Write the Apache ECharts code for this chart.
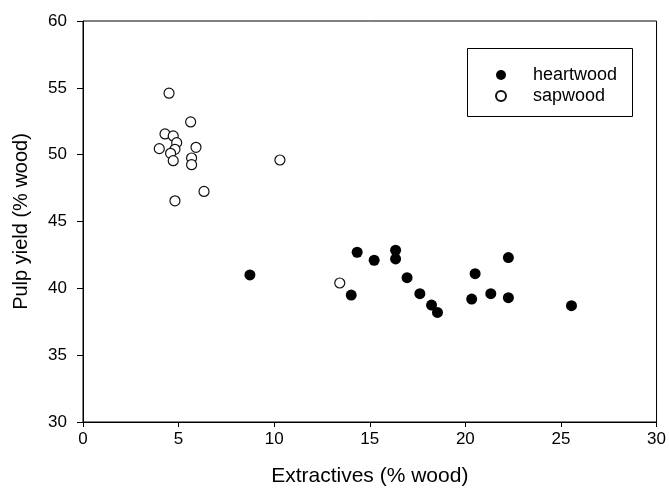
<!DOCTYPE html>
<html>
<head>
<meta charset="utf-8">
<script src="https://cdn.jsdelivr.net/npm/echarts@6/dist/echarts.min.js"></script>
<style>
  html, body { margin: 0; padding: 0; background: #fff; }
  #chart { width: 669px; height: 498px; }
</style>
</head>
<body>
<div id="chart"></div>
<script>
// extractives (% wood), pulp yield (% wood)
const heartwoodX = [8.73, 14.03, 14.34, 15.23, 16.35, 16.35, 16.95, 17.62, 18.23, 18.54, 20.33, 20.51, 21.33, 22.25, 22.25, 25.55];
const heartwoodY = [41.0, 39.5, 42.7, 42.1, 42.85, 42.2, 40.8, 39.6, 38.75, 38.2, 39.2, 41.1, 39.6, 42.3, 39.3, 38.7];

const sapwoodX = [4.50, 5.63, 4.29, 4.72, 4.90, 3.99, 5.91, 4.81, 4.58, 4.72, 5.68, 5.68, 10.30, 6.33, 4.81, 13.43];
const sapwoodY = [54.6, 52.45, 51.55, 51.4, 50.9, 50.45, 50.55, 50.4, 50.1, 49.55, 49.75, 49.25, 49.6, 47.25, 46.55, 40.4];

const xTicks = [0, 5, 10, 15, 20, 25, 30];
const yTicks = [30, 35, 40, 45, 50, 55, 60];

const pairs = (xs, ys) => xs.map((x, i) => [x, ys[i]]);

const chart = echarts.init(document.getElementById('chart'));

const font = 'Liberation Sans, Arial, sans-serif';

const option = {
    animation: false,
    backgroundColor: '#fff',
    grid: {
        left: 83,
        right: 12,
        top: 21,
        bottom: 76,
        show: true,
        borderColor: '#000',
        borderWidth: 1,
    },
    xAxis: {
        type: 'value',
        min: xTicks[0],
        max: xTicks[xTicks.length - 1],
        interval: 5,
        name: 'Extractives (% wood)',
        nameLocation: 'middle',
        nameGap: 44,
        nameTextStyle: { color: '#000', fontSize: 21, fontFamily: font },
        axisLine: { lineStyle: { color: '#000', width: 1 } },
        axisTick: { show: true, length: 5, lineStyle: { color: '#000' } },
        axisLabel: { color: '#000', fontSize: 17, fontFamily: font, margin: 9 },
        splitLine: { show: false },
    },
    yAxis: {
        type: 'value',
        min: yTicks[0],
        max: yTicks[yTicks.length - 1],
        interval: 5,
        name: 'Pulp yield (% wood)',
        nameLocation: 'middle',
        nameGap: 52,
        nameTextStyle: { color: '#000', fontSize: 20, fontFamily: font },
        axisLine: { show: true, lineStyle: { color: '#000', width: 1 } },
        axisTick: { show: true, length: 6, lineStyle: { color: '#000' } },
        axisLabel: { color: '#000', fontSize: 17, fontFamily: font, margin: 16 },
        splitLine: { show: false },
    },
    legend: {
        orient: 'vertical',
        left: 490,
        top: 61,
        itemWidth: 10,
        itemHeight: 10,
        itemGap: 3,
        textStyle: { color: '#000', fontSize: 18, fontFamily: font, padding: [0, 0, 0, 22] },
        data: [
            { name: 'heartwood', icon: 'circle' },
            { name: 'sapwood', icon: 'circle' },
        ],
    },
    graphic: [{
        type: 'rect',
        shape: { x: 467.5, y: 48.5, width: 165, height: 68 },
        style: { fill: 'none', stroke: '#000', lineWidth: 1 },
        z: 100,
    }],
    series: [
        {
            name: 'heartwood',
            type: 'scatter',
            data: pairs(heartwoodX, heartwoodY),
            symbol: 'circle',
            symbolSize: 11,
            itemStyle: { color: '#000', opacity: 1 },
        },
        {
            name: 'sapwood',
            type: 'scatter',
            data: pairs(sapwoodX, sapwoodY),
            symbol: 'circle',
            symbolSize: 10,
            itemStyle: { color: '#fff', borderColor: '#111', borderWidth: 1.2, opacity: 1 },
        },
    ],
};

chart.setOption(option);
</script>
</body>
</html>
